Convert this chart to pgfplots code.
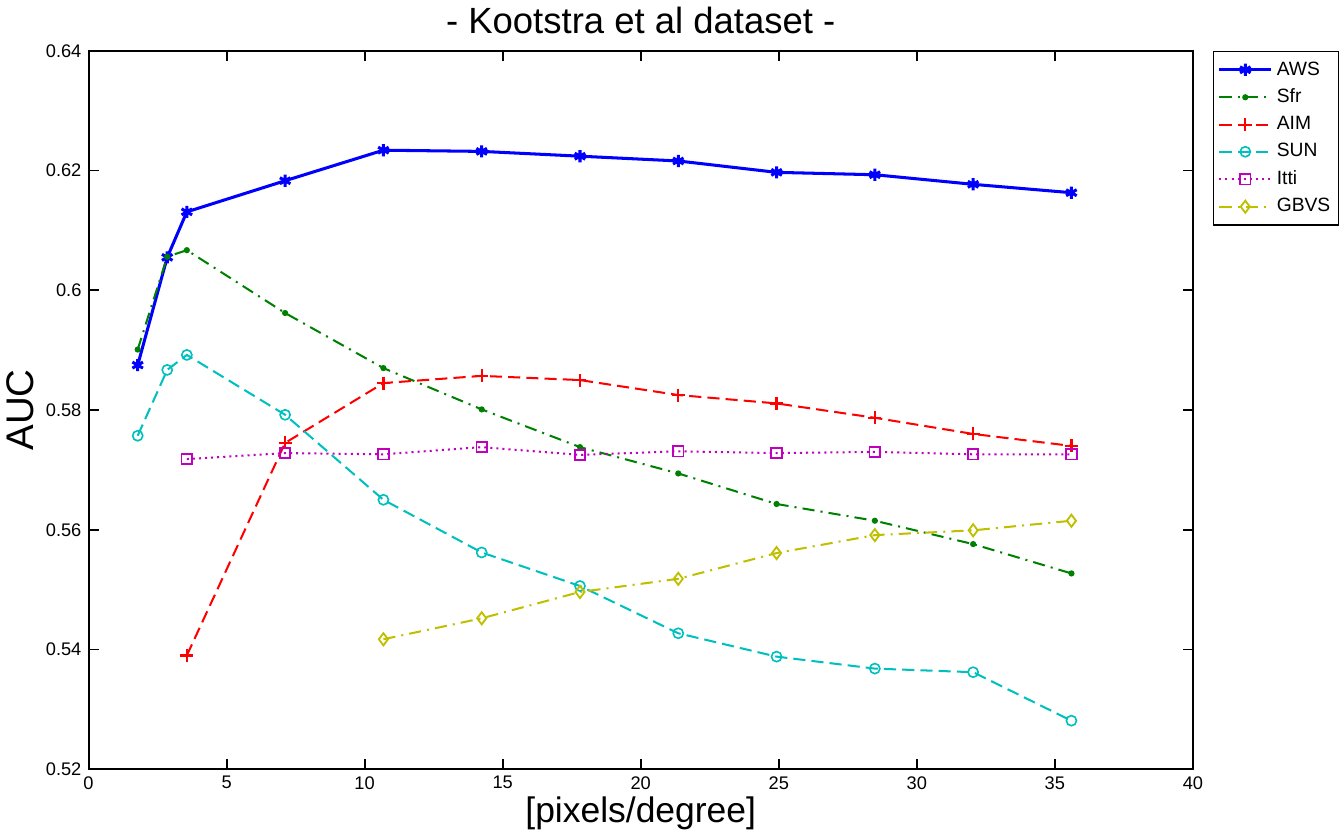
\documentclass[border=0pt]{standalone}
\usepackage{fontspec}
\setmainfont{Liberation Sans}
\usepackage{pgfplots}
\pgfplotsset{compat=1.18}

\definecolor{mgreen}{rgb}{0,0.5,0}
\definecolor{mcyan}{rgb}{0,0.75,0.75}
\definecolor{mmag}{rgb}{0.75,0,0.75}
\definecolor{myel}{rgb}{0.75,0.75,0}

\begin{document}
\begin{tikzpicture}
\begin{axis}[
    scale only axis,
    width=545pt, height=354.5pt,
    xmin=0, xmax=40, ymin=0.52, ymax=0.64,
    xtick={0,5,...,40},
    ytick={0.52,0.54,0.56,0.58,0.6,0.62,0.64},
    yticklabel style={/pgf/number format/fixed, /pgf/number format/precision=2},
    /pgf/number format/assume math mode=true,
    tick label style={font=\fontsize{9}{11}\selectfont},
    tick align=inside, major tick length=5pt,
    xtick pos=both, ytick pos=both,
    axis line style={line width=1pt},
    tick style={line width=0.9pt, black},
    title={- Kootstra et al dataset -},
    title style={font=\fontsize{18}{21}\selectfont, yshift=-1pt},
    xlabel={[pixels/degree]},
    ylabel={AUC},
    xlabel style={font=\fontsize{17.5}{20}\selectfont, yshift=3pt},
    ylabel style={font=\fontsize{19}{22}\selectfont, yshift=-1pt},
    legend style={at={(1,1)}, anchor=north west, xshift=10pt,
        font=\fontsize{9.5}{11}\selectfont, draw=black, line width=0.6pt,
        row sep=1.3pt, inner xsep=2pt, inner ysep=3pt},
    legend image code/.code={
        \draw[mark repeat=2, mark phase=2] plot coordinates {(0cm,0cm) (0.45cm,0cm) (0.9cm,0cm)};},
    legend cell align=left,
]
\addplot[blue, line width=1.5pt, mark=asterisk, mark size=3pt, mark options={solid, line width=1.5pt}] coordinates {
(1.78,0.5875) (2.85,0.6055) (3.56,0.6131) (7.12,0.6183) (10.68,0.6234) (14.24,0.6232)
(17.8,0.6224) (21.36,0.6216) (24.92,0.6197) (28.48,0.6193) (32.04,0.6177) (35.6,0.6163)};
\addlegendentry{AWS}
\addplot[mgreen, line width=1pt, dash pattern=on 6pt off 3pt on 1pt off 3pt, mark=*, mark size=1pt, mark options={solid}] coordinates {
(1.78,0.5901) (2.85,0.6056) (3.56,0.6067) (7.12,0.5962) (10.68,0.5870) (14.24,0.5801)
(17.8,0.5738) (21.36,0.5694) (24.92,0.5643) (28.48,0.5615) (32.04,0.5576) (35.6,0.5527)};
\addlegendentry{Sfr}
\addplot[red, line width=1pt, dash pattern=on 6pt off 3pt, mark=+, mark size=3.2pt, mark options={solid, line width=1.1pt}] coordinates {
(3.56,0.5390) (7.12,0.5745) (10.68,0.5845) (14.24,0.5857) (17.8,0.5850) (21.36,0.5825)
(24.92,0.5811) (28.48,0.5787) (32.04,0.5760) (35.6,0.5740)};
\addlegendentry{AIM}
\addplot[mcyan, line width=1pt, dash pattern=on 6pt off 3pt, mark=o, mark size=2.5pt, mark options={solid, line width=0.8pt}] coordinates {
(1.78,0.5757) (2.85,0.5867) (3.56,0.5892) (7.12,0.5792) (10.68,0.5650) (14.24,0.5562)
(17.8,0.5506) (21.36,0.5427) (24.92,0.5388) (28.48,0.5368) (32.04,0.5362) (35.6,0.5281)};
\addlegendentry{SUN}
\addplot[mmag, line width=1pt, dash pattern=on 1pt off 2pt, mark=square, mark size=2.6pt, mark options={solid, line width=0.9pt}] coordinates {
(3.56,0.5718) (7.12,0.5728) (10.68,0.5726) (14.24,0.5738) (17.8,0.5725) (21.36,0.5731)
(24.92,0.5728) (28.48,0.5730) (32.04,0.5726) (35.6,0.5726)};
\addlegendentry{Itti}
\addplot[myel, line width=1pt, dash pattern=on 6pt off 3pt on 1pt off 3pt, mark=diamond, mark size=3pt, mark options={solid, line width=0.9pt}] coordinates {
(10.68,0.5417) (14.24,0.5452) (17.8,0.5496) (21.36,0.5518) (24.92,0.5561)
(28.48,0.5591) (32.04,0.5599) (35.6,0.5615)};
\addlegendentry{GBVS}
\end{axis}
\end{tikzpicture}
\end{document}
